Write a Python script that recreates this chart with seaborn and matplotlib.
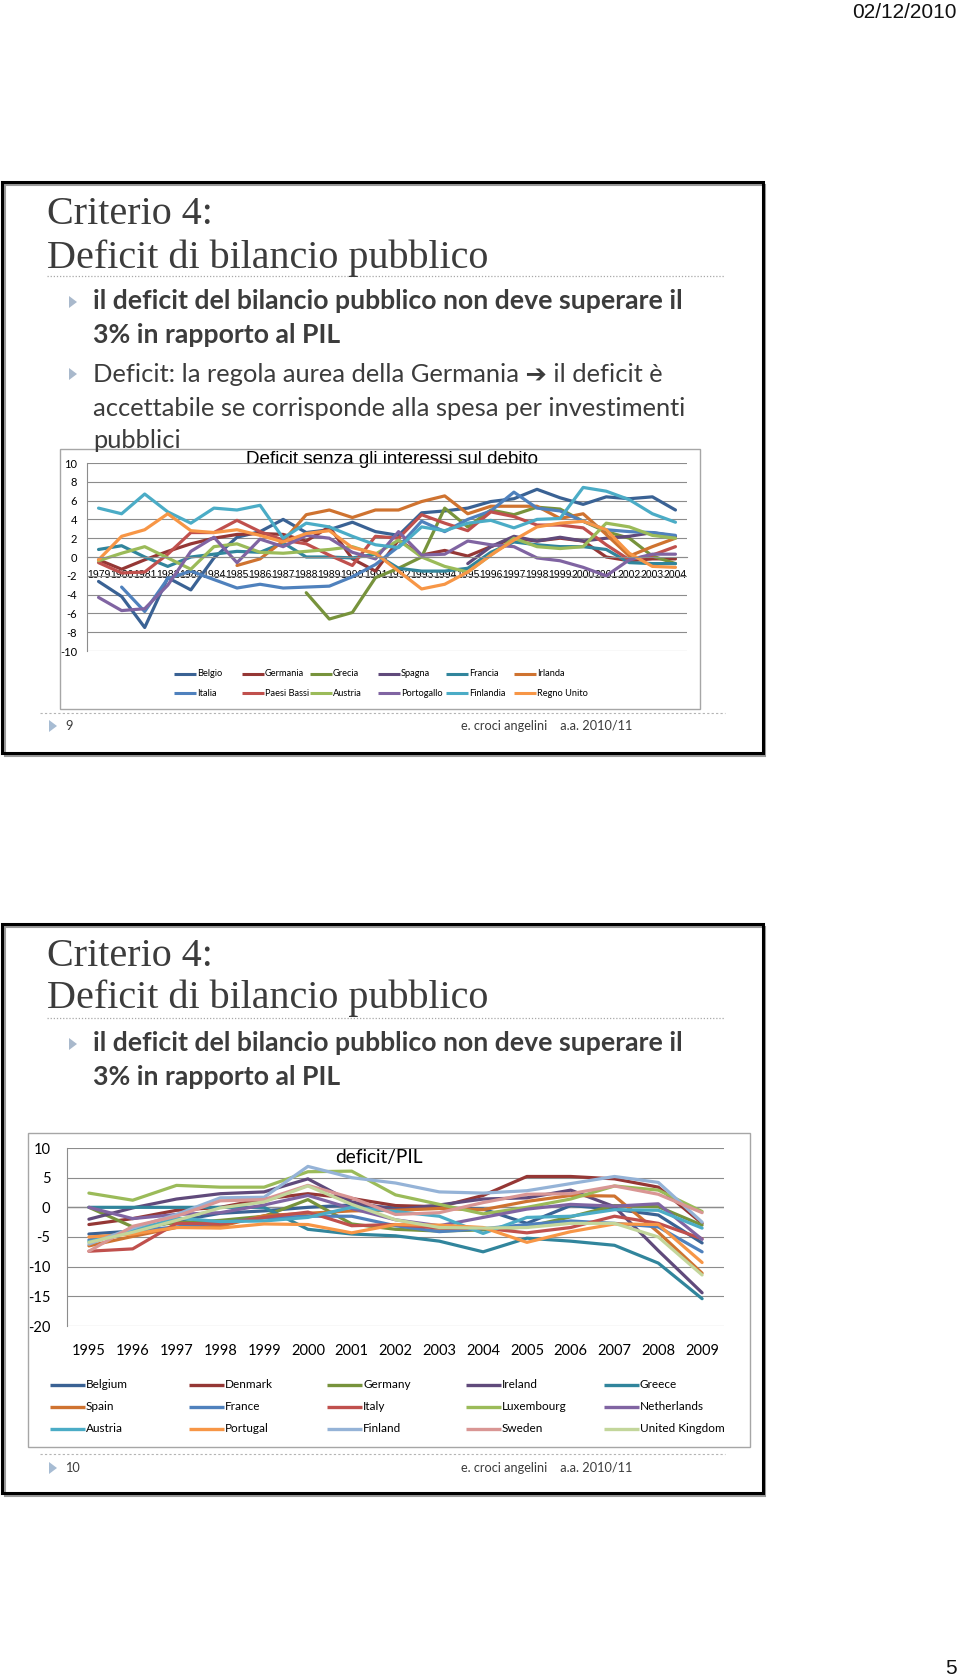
import numpy as np
import pandas as pd
import matplotlib
matplotlib.use("Agg")
import matplotlib.pyplot as plt
import seaborn as sns
from matplotlib.patches import Rectangle, Polygon
from matplotlib import font_manager

# ---------------- data : chart 1 (primary balance) ----------------
years1 = list(range(1979, 2005))
countries1 = ["Belgio", "Germania", "Grecia", "Spagna", "Francia", "Irlanda",
              "Italia", "Paesi Bassi", "Austria", "Portogallo", "Finlandia", "Regno Unito"]
nan = np.nan
belgio = [-2.6, -4.2, -7.5, -2.2, -3.5, -0.1, 2.1, 2.7, 4.0, 2.6, 2.9, 3.7, 2.7,
          2.3, 4.7, 4.9, 5.2, 5.9, 6.2, 7.2, 6.3, 5.6, 6.4, 6.2, 6.4, 5.0]
germania = [-0.3, -1.3, -0.3, 0.6, 1.4, 2.0, 2.4, 2.5, 2.4, 1.7, 3.2, -0.2, -1.5,
            1.8, 0.2, 0.7, 0.1, 1.1, 2.0, 1.7, 2.0, 1.7, 0.0, -0.4, -0.2, -0.2]
grecia = [nan] * 9 + [-3.8, -6.6, -5.9, -2.2, -1.2, 0.0, 5.2, 3.2, 5.0, 4.5, 5.3,
                      5.1, 3.8, 2.7, 2.0, 0.1, -0.7]
spagna = [nan] * 16 + [-0.7, 1.1, 2.2, 1.7, 2.1, 1.7, 2.0, 2.2, 2.6, 2.2]
francia = [0.8, 1.2, 0.0, -1.0, 0.0, 0.3, 0.6, 0.5, 1.5, 0.0, 0.0, -0.1, 0.3,
           -1.2, -1.5, -1.5, -1.2, 0.5, 1.6, 1.3, 1.1, 1.1, 0.8, -0.6, -0.7, -0.7]
irlanda = [nan] * 6 + [-0.9, -0.2, 1.7, 4.5, 5.0, 4.2, 5.0, 5.0, 5.9, 6.5, 4.6, 5.4,
                       5.4, 5.4, 4.1, 4.6, 2.4, 0.1, 1.1, 2.0]
italia = [nan, -3.2, -5.8, -2.3, -1.5, -2.4, -3.3, -2.9, -3.3, -3.2, -3.1, -2.1, -0.8,
          1.1, 3.8, 2.7, 4.0, 4.9, 6.9, 5.2, 4.9, 3.8, 2.9, 2.7, 2.6, 2.3]
paesi_bassi = [-0.6, -1.7, -1.6, 0.3, 2.6, 2.6, 3.9, 2.7, 1.8, 1.4, 0.2, -0.9, 2.2,
               2.0, 4.5, 3.6, 2.8, 4.8, 4.3, 3.4, 3.4, 3.1, 1.3, -0.3, 0.2, 1.1]
austria = [-0.4, 0.4, 1.1, -0.1, -1.3, 1.1, 1.4, 0.5, 0.4, 0.6, 0.8, 1.1, 0.3,
           1.8, 0.0, -1.0, -1.6, 0.2, 2.0, 1.1, 0.9, 1.1, 3.6, 3.2, 2.3, 2.0]
portogallo = [-4.3, -5.7, -5.5, -3.0, 0.6, 2.1, -0.6, 1.9, 1.1, 2.3, 2.0, 0.5, -0.2,
              2.7, 0.2, 0.3, 1.7, 1.3, 1.1, -0.1, -0.4, -1.1, -2.0, -0.3, 0.3, 0.3]
finlandia = [5.2, 4.6, 6.7, 4.8, 3.6, 5.2, 5.0, 5.5, 2.0, 3.6, 3.2, 2.2, 1.3,
             1.0, 3.2, 2.8, 3.6, 3.9, 3.1, 4.0, 4.1, 7.4, 7.0, 6.1, 4.6, 3.7]
regno_unito = [-0.3, 2.2, 2.9, 4.6, 2.8, 2.6, 2.9, 2.3, 1.6, 2.5, 2.8, 1.0, 0.4,
               -1.5, -3.4, -2.9, -1.6, 0.2, 1.8, 3.2, 3.6, 3.8, 2.9, 0.4, -1.0, -1.1]
series1 = [belgio, germania, grecia, spagna, francia, irlanda,
           italia, paesi_bassi, austria, portogallo, finlandia, regno_unito]

# ---------------- data : chart 2 (deficit / GDP) ----------------
years2 = list(range(1995, 2010))
countries2 = ["Belgium", "Denmark", "Germany", "Ireland", "Greece",
              "Spain", "France", "Italy", "Luxembourg", "Netherlands",
              "Austria", "Portugal", "Finland", "Sweden", "United Kingdom"]
belgium = [-4.5, -4.0, -2.3, -1.0, -0.6, 0.0, 0.4, -0.1, -0.1, -0.3, -2.7, 0.3, -0.3, -1.3, -6.0]
denmark = [-2.9, -1.9, -0.5, 0.0, 1.4, 2.3, 1.5, 0.3, 0.1, 2.0, 5.2, 5.2, 4.8, 3.4, -2.7]
germany = [0.0, -3.3, -2.6, -2.2, -1.5, 1.3, -2.8, -3.7, -4.0, -3.8, -3.3, -1.6, 0.3, 0.1, -3.0]
ireland = [-2.0, -0.1, 1.4, 2.3, 2.6, 4.8, 0.9, -0.4, 0.4, 1.4, 1.6, 2.9, 0.1, -7.3, -14.4]
greece = [0.0, 0.0, 0.0, 0.0, 0.0, -3.7, -4.5, -4.8, -5.7, -7.5, -5.2, -5.7, -6.4, -9.4, -15.4]
spain = [-6.5, -4.9, -3.4, -3.2, -1.4, -1.0, -0.6, -0.5, -0.2, -0.4, 1.0, 2.0, 1.9, -4.2, -11.1]
france = [-5.5, -4.0, -3.3, -2.6, -1.8, -1.5, -1.5, -3.1, -4.1, -3.6, -2.9, -2.3, -2.7, -3.3, -7.5]
italy = [-7.4, -7.0, -2.7, -2.8, -1.7, -0.8, -3.1, -2.9, -3.5, -3.5, -4.3, -3.4, -1.5, -2.7, -5.3]
luxembourg = [2.4, 1.2, 3.7, 3.4, 3.4, 6.0, 6.1, 2.1, 0.5, -1.1, 0.0, 1.4, 3.6, 2.9, -0.7]
netherlands = [0.0, -1.9, -1.2, -0.9, 0.4, 2.0, -0.2, -2.1, -3.1, -1.7, -0.3, 0.5, 0.2, 0.6, -5.4]
austria2 = [-5.8, -4.0, -1.8, -2.4, -2.3, -1.7, 0.0, -0.7, -1.5, -4.4, -1.7, -1.5, -0.4, -0.5, -3.5]
portugal = [-5.0, -4.5, -3.4, -3.5, -2.8, -2.9, -4.3, -2.9, -3.0, -3.4, -5.9, -4.1, -2.8, -2.9, -9.3]
finland = [-6.2, -3.5, -1.2, 1.6, 1.7, 6.9, 5.0, 4.1, 2.6, 2.4, 2.8, 4.0, 5.2, 4.2, -2.5]
sweden = [-7.4, -3.2, -1.5, 1.1, 1.3, 3.7, 1.6, -1.2, -0.9, 0.8, 2.2, 2.3, 3.6, 2.2, -0.9]
united_kingdom = [-5.9, -4.2, -2.2, -0.1, 0.9, 3.6, 0.5, -2.1, -3.4, -3.5, -3.4, -2.7, -2.7, -5.0, -11.4]
series2 = [belgium, denmark, germany, ireland, greece, spain, france, italy, luxembourg,
           netherlands, austria2, portugal, finland, sweden, united_kingdom]

title1 = "Deficit senza gli interessi sul debito"
title2 = "deficit/PIL"

# ---------------- style ----------------
dark = ["#3A6294", "#953735", "#77933C", "#604A7B", "#31859C", "#CF7330"]
normal = ["#4F81BD", "#C0504D", "#9BBB59", "#8064A2", "#4BACC6", "#F79646"]
light = ["#95B3D7", "#D99694", "#C3D69B"]
pal1 = dict(zip(countries1, dark + normal))
pal2 = dict(zip(countries2, dark + normal + light))

sns.set_style("white")
plt.rcParams["font.family"] = ["Lato", "DejaVu Sans"]
plt.rcParams["axes.unicode_minus"] = False
TXT = "#3C3C3C"
GRID = "#8C8C8C"

installed = {f.name for f in font_manager.fontManager.ttflist}
narrow = ["Liberation Sans Narrow"] if "Liberation Sans Narrow" in installed else []
datefam = narrow + ["Liberation Sans", "DejaVu Sans"]

W, H = 960, 1680
fig = plt.figure(figsize=(9.6, 16.8), dpi=100)
fig.patch.set_facecolor("white")
bg = fig.add_axes([0, 0, 1, 1], zorder=0)
bg.set_xlim(0, W)
bg.set_ylim(H, 0)
bg.axis("off")
renderer = fig.canvas.get_renderer()


def fit(x, y, s, width, ha="left", va="baseline", size0=12, **kw):
    t = bg.text(x, y, s, fontsize=size0, ha=ha, va=va, **kw)
    w = t.get_window_extent(renderer).width
    t.set_fontsize(size0 * width / w)
    return t


def tri(x, yc, w=8, h=12, color="#A9B9CC"):
    bg.add_patch(Polygon([(x, yc - h / 2), (x, yc + h / 2), (x + w, yc)],
                         closed=True, fc=color, ec="none"))


# ---------------- page decorations ----------------
td = fit(957, 13, "02/12/2010", 105, ha="right", va="center", family=datefam, color="#111111")
bg.text(957, 1669, "5", fontsize=td.get_fontsize(), ha="right", va="center",
        family=datefam, color="#111111")

for top, bot in [(182, 753), (924, 1493)]:
    bg.add_patch(Rectangle((5, top + 3), 760, bot - top, fill=False, ec="#9A9A9A", lw=1.5))
    bg.add_patch(Rectangle((2, top), 761, bot - top, fill=False, ec="black", lw=2.2))

serif = ["Liberation Serif", "DejaVu Serif"]
body = ["Lato", "DejaVu Sans"]

for off, b2 in [(0, True), (742, False)]:
    t = fit(47, 268 + off - (2 if off else 0), "Deficit di bilancio pubblico", 442,
            family=serif, color=TXT)
    bg.text(47, 224 + off, "Criterio 4:", fontsize=t.get_fontsize(), family=serif,
            color=TXT, va="baseline")
    bg.plot([47, 724], [276 + off, 276 + off], ls=(0, (1, 1.5)), color="#A8A8A8", lw=0.9)
    # bullet 1
    tri(69, 302 + off)
    tb = fit(93, 309 + off, "il deficit del bilancio pubblico non deve superare il", 587,
             family=body, weight="bold", color=TXT)
    bg.text(93, 343 + off, "3% in rapporto al PIL", fontsize=tb.get_fontsize(),
            family=body, weight="bold", color=TXT, va="baseline")
    if b2:
        tri(69, 374)
        tr = fit(93, 416, "accettabile se corrisponde alla spesa per investimenti", 590,
                 family=body, color=TXT)
        fs = tr.get_fontsize()
        bg.text(93, 382, "Deficit: la regola aurea della Germania \u2794 il deficit \u00e8",
                fontsize=fs, family=body, color=TXT, va="baseline")
        bg.text(93, 448, "pubblici", fontsize=fs, family=body, color=TXT, va="baseline")

# footers
for yl, yt, num in [(713, 726, "9"), (1454, 1468, "10")]:
    bg.plot([40, 725], [yl, yl], ls=(0, (2, 2)), color="#B4B4B4", lw=0.8)
    tri(49, yt, w=8, h=12, color="#A7BCD3")
    tf = fit(461, yt, "e. croci angelini    a.a. 2010/11", 172, va="center",
             family=body, color=TXT)
    bg.text(65, yt, num, fontsize=tf.get_fontsize(), family=body, color=TXT, va="center")

# chart boxes
bg.add_patch(Rectangle((60, 449), 640, 260, fill=True, fc="white", ec="#A6A6A6", lw=1.0))
bg.add_patch(Rectangle((28, 1133), 722, 314, fill=True, fc="white", ec="#A6A6A6", lw=1.0))

fit(392, 460, title1, 295, ha="center", va="center",
    family=["Liberation Sans", "DejaVu Sans"], color="black")
fit(379, 1157, title2, 87, ha="center", va="center", family=body, color="black")

# ---------------- chart 1 ----------------
df1 = pd.DataFrame({
    "idx": np.tile(np.arange(len(years1)), len(countries1)),
    "value": np.concatenate([np.array(s, dtype=float) for s in series1]),
    "country": np.repeat(countries1, len(years1)),
})
ax1 = fig.add_axes([87 / W, 1 - 651 / H, 600 / W, 188 / H], zorder=2)
ax1.patch.set_alpha(0)
sns.lineplot(data=df1, x="idx", y="value", hue="country", hue_order=countries1,
             palette=pal1, linewidth=2.3, legend=False, estimator=None, ax=ax1)
ax1.set_xlim(-0.5, len(years1) - 0.5)
ax1.set_ylim(-10, 10)
ax1.set_yticks(range(-10, 11, 2))
ax1.yaxis.grid(True, color=GRID, lw=0.8)
ax1.xaxis.grid(False)
ax1.set_axisbelow(True)
for s in ["top", "right"]:
    ax1.spines[s].set_visible(False)
ax1.spines["left"].set_color(GRID)
ax1.spines["bottom"].set_color(GRID)
ax1.spines["bottom"].set_position(("data", 0))
ax1.set_xticks(range(len(years1)))
ax1.set_xticklabels([str(y) for y in years1], family=["Liberation Sans", "DejaVu Sans"])
ax1.set_xticks(np.arange(-0.5, len(years1), 1), minor=True)
ax1.tick_params(axis="x", which="major", length=0, pad=9, labelsize=7.5, colors="black")
ax1.tick_params(axis="x", which="minor", length=3, direction="inout", color=GRID)
ax1.tick_params(axis="y", length=3, color=GRID, pad=4, labelsize=8, labelcolor="black")
ax1.set_xlabel("")
ax1.set_ylabel("")

for j, name in enumerate(countries1):
    row, col = divmod(j, 6)
    x0 = 174 + 68 * col
    y = 674 + 19 * row
    bg.plot([x0, x0 + 22], [y, y], color=pal1[name], lw=2.2, solid_capstyle="butt")
    bg.text(x0 + 23, y, name, fontsize=6.7, va="center", family=body, color="black")

# ---------------- chart 2 ----------------
df2 = pd.DataFrame({
    "idx": np.tile(np.arange(len(years2)), len(countries2)),
    "value": np.concatenate([np.array(s, dtype=float) for s in series2]),
    "country": np.repeat(countries2, len(years2)),
})
ax2 = fig.add_axes([67 / W, 1 - 1326 / H, 657 / W, 178 / H], zorder=2)
ax2.patch.set_alpha(0)
ax2.axhline(0, color=GRID, lw=1.0, zorder=1)
sns.lineplot(data=df2, x="idx", y="value", hue="country", hue_order=countries2,
             palette=pal2, linewidth=2.3, legend=False, estimator=None, ax=ax2)
ax2.set_xlim(-0.5, len(years2) - 0.5)
ax2.set_ylim(-20, 10)
ax2.set_yticks(range(-20, 11, 5))
ax2.yaxis.grid(True, color=GRID, lw=0.8)
ax2.xaxis.grid(False)
ax2.set_axisbelow(True)
for s in ["top", "right", "bottom"]:
    ax2.spines[s].set_visible(False)
ax2.spines["left"].set_color(GRID)
ax2.set_xticks(range(len(years2)))
ax2.set_xticklabels([str(y) for y in years2])
ax2.tick_params(axis="x", length=0, pad=13, labelsize=10.5, colors="black")
ax2.tick_params(axis="y", length=3, color=GRID, pad=9, labelsize=10.5, labelcolor="black")
ax2.set_xlabel("")
ax2.set_ylabel("")

for j, name in enumerate(countries2):
    row, col = divmod(j, 5)
    x0 = 50 + 138.5 * col
    y = 1385 + 22 * row
    bg.plot([x0, x0 + 35], [y, y], color=pal2[name], lw=2.4, solid_capstyle="butt")
    bg.text(x0 + 36, y, name, fontsize=8.5, va="center", family=body, color="black")

fig.savefig("out.png", dpi=100, facecolor="white")
